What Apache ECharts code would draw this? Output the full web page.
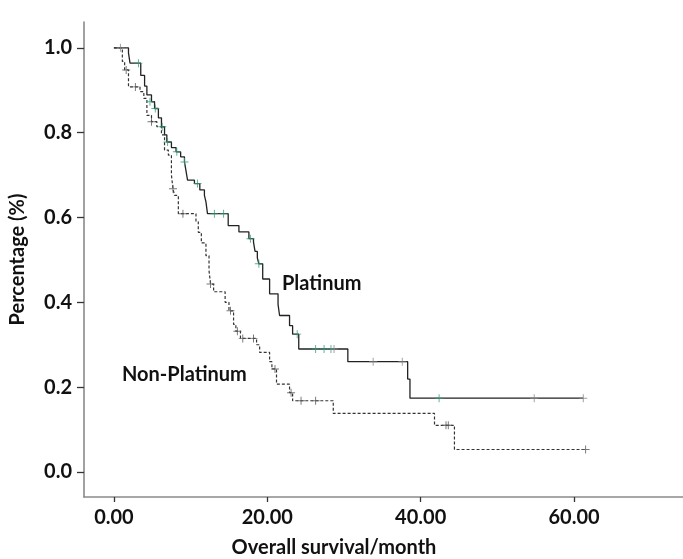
<!DOCTYPE html>
<html>
<head>
<meta charset="utf-8">
<script src="https://cdn.jsdelivr.net/npm/echarts@6/dist/echarts.min.js"></script>
<style>html,body{margin:0;padding:0;background:#fff}#c{width:683px;height:559px}</style>
</head>
<body>
<div id="c"></div>
<script>
const xTicks = [0, 20, 40, 60];
const yTicks = [0, 0.2, 0.4, 0.6, 0.8, 1.0];

const platinumCurve = [[0,1],[1.9,0.988],[2.1,0.964],[3.5,0.935],[4.0,0.91],[4.3,0.889],[4.9,0.873],[5.3,0.857],[5.8,0.835],[6.2,0.814],[6.6,0.795],[6.9,0.778],[7.5,0.765],[8.1,0.755],[8.7,0.743],[9.2,0.731],[9.4,0.71],[9.6,0.688],[10.5,0.68],[11.2,0.665],[11.8,0.652],[12.0,0.637],[12.2,0.609],[14.9,0.581],[16.3,0.566],[17.6,0.55],[18.2,0.542],[18.4,0.52],[18.7,0.505],[18.9,0.491],[19.4,0.455],[20.3,0.42],[21.4,0.395],[21.6,0.369],[22.9,0.345],[23.3,0.325],[24.1,0.29],[30.5,0.26],[38.3,0.219],[38.6,0.174],[61.2,0.174]];
const platinumCensorGreen = [[3.2,0.964],[4.7,0.873],[5.4,0.857],[6.3,0.814],[7.0,0.778],[8.2,0.755],[9.2,0.731],[10.9,0.68],[13.1,0.609],[14.3,0.609],[17.8,0.55],[18.9,0.491],[23.9,0.325],[26.3,0.29],[27.4,0.29],[28.3,0.29],[42.4,0.174]];
const platinumCensorGray = [[0.85,1.0],[28.7,0.29],[33.8,0.26],[37.6,0.26],[54.8,0.174],[61.2,0.174]];

const nonPlatinumCurve = [[0,1],[1.1,0.968],[1.4,0.948],[1.9,0.908],[3.4,0.897],[3.9,0.881],[4.3,0.841],[4.9,0.826],[5.6,0.814],[6.2,0.795],[6.6,0.759],[7.1,0.747],[7.5,0.70],[7.7,0.668],[7.9,0.652],[8.4,0.609],[10.7,0.59],[11.0,0.565],[11.4,0.54],[12.0,0.51],[12.4,0.475],[12.6,0.443],[13.0,0.425],[14.5,0.40],[15.0,0.38],[15.6,0.348],[15.9,0.332],[16.5,0.315],[18.6,0.30],[19.0,0.282],[20.3,0.26],[20.6,0.243],[21.2,0.207],[22.9,0.187],[23.3,0.168],[28.6,0.138],[41.8,0.110],[44.4,0.053],[61.5,0.053]];
const nonPlatinumCensor = [[1.6,0.948],[2.8,0.908],[4.9,0.826],[7.7,0.668],[9.0,0.609],[12.6,0.443],[15.2,0.38],[16.1,0.332],[16.8,0.315],[18.2,0.315],[21.0,0.243],[23.1,0.187],[24.4,0.168],[26.3,0.168],[43.3,0.110],[43.6,0.110],[61.5,0.053]];

const seriesNames = ['Platinum', 'Non-Platinum'];
const xTitle = 'Overall survival/month';
const yTitle = 'Percentage (%)';

const FONT = 'Lato';
const TFONT = 'bold 20px "Lato"';
const cross = 'path://M4.4,0h1.2v10h-1.2z M0,4.4h10v1.2h-10z';

const chart = echarts.init(document.getElementById('c'), null, {renderer: 'canvas'});
chart.setOption({
  animation: false,
  backgroundColor: '#fff',
  grid: {left: 76, right: 0, top: 22, bottom: 62, containLabel: false},
  xAxis: {
    type: 'value', min: -3.9, max: 74.2,
    splitLine: {show: false},
    axisLine: {onZero: false, lineStyle: {color: '#8a8a8a', width: 1.6}},
    axisTick: {show: true, inside: false, length: 5, customValues: xTicks, lineStyle: {color: '#333', width: 1.3}},
    axisLabel: {customValues: xTicks, margin: 11, formatter: v => v.toFixed(2), fontFamily: FONT, fontWeight: 'bold', fontSize: 20, color: '#111'}
  },
  yAxis: {
    type: 'value', min: -0.059, max: 1.061,
    splitLine: {show: false},
    axisLine: {onZero: false, lineStyle: {color: '#8a8a8a', width: 1.6}},
    axisTick: {show: true, inside: false, length: 7, customValues: yTicks, lineStyle: {color: '#333', width: 1.3}},
    axisLabel: {customValues: yTicks, margin: 12, formatter: v => v.toFixed(1), fontFamily: FONT, fontWeight: 'bold', fontSize: 20, color: '#111'},
    name: yTitle, nameLocation: 'middle', nameGap: 56, nameRotate: 90,
    nameTextStyle: {fontFamily: FONT, fontWeight: 'bold', fontSize: 20, color: '#111'}
  },
  graphic: [
    {type: 'text', style: {text: xTitle, x: 334, y: 548, align: 'center', verticalAlign: 'middle', font: TFONT, fill: '#111'}},
    {type: 'text', style: {text: seriesNames[0], x: 282, y: 284, align: 'left', verticalAlign: 'middle', font: TFONT, fill: '#111'}},
    {type: 'text', style: {text: seriesNames[1], x: 122, y: 375, align: 'left', verticalAlign: 'middle', font: TFONT, fill: '#111'}}
  ],
  series: [
    {name: seriesNames[0], type: 'line', step: 'end', showSymbol: false, data: platinumCurve,
     lineStyle: {color: '#222', width: 1.3}, z: 3},
    {name: seriesNames[1], type: 'line', step: 'end', showSymbol: false, data: nonPlatinumCurve,
     lineStyle: {color: '#333', width: 1.2, type: [3, 2]}, z: 3},
    {type: 'scatter', data: platinumCensorGreen, symbol: cross, symbolSize: 8, itemStyle: {color: '#3a9a80'}, z: 4},
    {type: 'scatter', data: platinumCensorGray, symbol: cross, symbolSize: 8, itemStyle: {color: '#888'}, z: 4},
    {type: 'scatter', data: nonPlatinumCensor, symbol: cross, symbolSize: 8, itemStyle: {color: '#555'}, z: 4}
  ]
});
</script>
</body>
</html>
